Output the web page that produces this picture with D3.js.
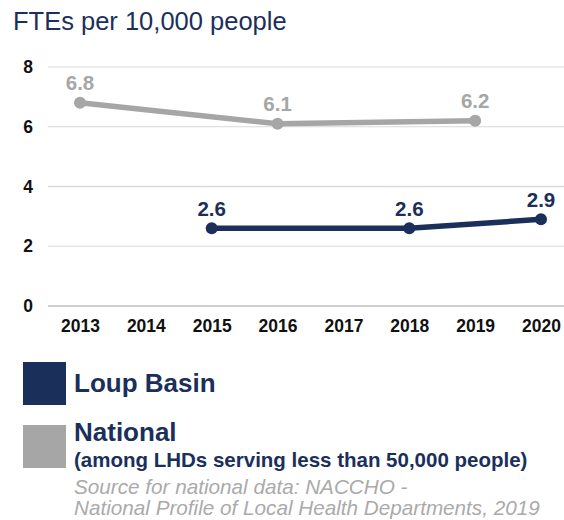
<html>
  <head>
    <title>FTEs per 10,000 people</title>
    <script type="text/javascript" src="https://d3js.org/d3.v7.min.js"></script>
    <style type="text/css">
      body { margin: 0; background: #fff; }
      text { font-family: "Liberation Sans", Arial, sans-serif; }
    </style>
  </head>
  <body>
    <script type="text/javascript">

      //Data
      var years = ["2013", "2014", "2015", "2016", "2017", "2018", "2019", "2020"];
      var loupYears = ["2015", "2018", "2020"];
      var loupValues = [2.6, 2.6, 2.9];
      var nationalYears = ["2013", "2016", "2019"];
      var nationalValues = [6.8, 6.1, 6.2];
      var yTicks = [0, 2, 4, 6, 8];

      var navy = "#1b2f5b";
      var grey = "#a6a6a6";

      //Width and height
      var w = 564;
      var h = 520;

      var svg = d3.select("body")
            .append("svg")
            .attr("width", w)
            .attr("height", h);

      //Scales
      var x = d3.scalePoint()
        .domain(years)
        .range([80, 541]);

      var y = d3.scaleLinear()
        .domain([0, 8])
        .range([306, 67]);

      //Title
      svg.append("text")
        .attr("x", 13)
        .attr("y", 30)
        .attr("fill", navy)
        .style("font-size", "25.5px")
        .text("FTEs per 10,000 people");

      //Gridlines
      svg.selectAll("line.grid")
        .data(yTicks)
        .enter()
        .append("line")
        .attr("class", "grid")
        .attr("x1", 48)
        .attr("x2", w)
        .attr("y1", d => y(d))
        .attr("y2", d => y(d))
        .attr("stroke", d => d === 0 ? "#a0a0a0" : "#d9d9d9")
        .attr("stroke-width", d => d === 4 ? 1.5 : 1);

      //Y axis
      var yAxis = svg.append("g")
        .attr("transform", "translate(33,0)")
        .call(d3.axisLeft(y).tickValues(yTicks).tickSize(0).tickPadding(0));
      yAxis.select(".domain").remove();
      yAxis.selectAll("text")
        .attr("fill", "#111")
        .style("font-size", "17.5px")
        .style("font-weight", "bold")
        .attr("font-family", null);

      //X axis
      var xAxis = svg.append("g")
        .attr("transform", "translate(0,320)")
        .call(d3.axisBottom(x).tickSize(0).tickPadding(0));
      xAxis.select(".domain").remove();
      xAxis.selectAll("text")
        .attr("fill", "#111")
        .style("font-size", "17.5px")
        .style("font-weight", "bold")
        .attr("font-family", null);

      //Series
      var series = [
        { name: "National", years: nationalYears, values: nationalValues, color: grey },
        { name: "Loup Basin", years: loupYears, values: loupValues, color: navy }
      ];

      var line = d3.line()
        .x(d => x(d[0]))
        .y(d => y(d[1]));

      series.forEach(function(s) {
        var pts = d3.zip(s.years, s.values);
        var cls = s.name.replace(" ", "");
        svg.append("path")
          .datum(pts)
          .attr("d", line)
          .attr("fill", "none")
          .attr("stroke", s.color)
          .attr("stroke-width", 5.5);

        svg.selectAll("circle." + cls)
          .data(pts)
          .enter()
          .append("circle")
          .attr("class", cls)
          .attr("cx", d => x(d[0]))
          .attr("cy", d => y(d[1]))
          .attr("r", 6)
          .attr("fill", s.color);

        svg.selectAll("text." + cls)
          .data(pts)
          .enter()
          .append("text")
          .attr("class", cls)
          .attr("x", d => x(d[0]))
          .attr("y", d => y(d[1]) - 12.5)
          .attr("text-anchor", "middle")
          .attr("fill", s.color)
          .style("font-size", "20.5px")
          .style("font-weight", "bold")
          .text(d => d[1].toFixed(1));
      });

      //Legend
      svg.append("rect")
        .attr("x", 23).attr("y", 362)
        .attr("width", 43).attr("height", 43)
        .attr("fill", navy);
      svg.append("text")
        .attr("x", 74).attr("y", 392)
        .attr("fill", navy)
        .style("font-size", "26px")
        .style("font-weight", "bold")
        .text("Loup Basin");

      svg.append("rect")
        .attr("x", 23).attr("y", 425)
        .attr("width", 43).attr("height", 43)
        .attr("fill", grey);
      svg.append("text")
        .attr("x", 74).attr("y", 441)
        .attr("fill", navy)
        .style("font-size", "26px")
        .style("font-weight", "bold")
        .text("National");
      svg.append("text")
        .attr("x", 74).attr("y", 467)
        .attr("fill", navy)
        .style("font-size", "20.5px")
        .style("font-weight", "bold")
        .text("(among LHDs serving less than 50,000 people)");

      svg.append("text")
        .attr("x", 74).attr("y", 494)
        .attr("fill", "#aaaaaa")
        .style("font-size", "20.7px")
        .style("font-style", "italic")
        .text("Source for national data: NACCHO -");
      svg.append("text")
        .attr("x", 74).attr("y", 515)
        .attr("fill", "#aaaaaa")
        .style("font-size", "20.7px")
        .style("font-style", "italic")
        .text("National Profile of Local Health Departments, 2019");

    </script>
  </body>
</html>
